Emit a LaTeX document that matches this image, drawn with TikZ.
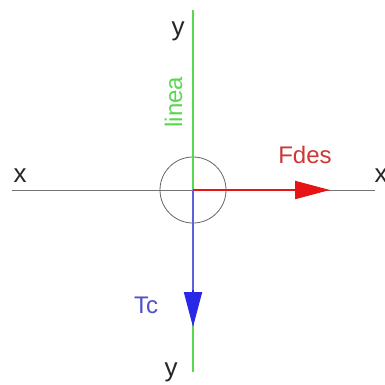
\documentclass[tikz,border=0pt]{standalone}
\usepackage{fontspec}
\setmainfont{Liberation Sans}
\usetikzlibrary{arrows.meta}
\definecolor{gline}{RGB}{90,215,80}
\definecolor{rarrow}{RGB}{230,20,20}
\definecolor{rtext}{RGB}{205,55,55}
\definecolor{barrow}{RGB}{40,40,230}
\definecolor{bline}{RGB}{95,95,215}
\definecolor{btext}{RGB}{80,80,205}
\begin{document}
\begin{tikzpicture}[x=1pt,y=-1pt,
  axislbl/.style={font=\fontsize{26}{26}\selectfont, text=black!85, inner sep=0pt, anchor=base},
  lbl/.style={font=\fontsize{24}{24}\selectfont, inner sep=0pt, anchor=base},
  vec/.style={line width=2pt, -{Triangle[length=35pt,width=18pt]}}]
\useasboundingbox (0,0) rectangle (385,385);
\fill[white] (0,0) rectangle (385,385);
\coordinate (o) at (193,190);
\coordinate (xl) at (12,190);
\coordinate (xr) at (375,190);
\coordinate (yt) at (193,10);
\coordinate (yb) at (193,372);
\coordinate (fe) at (330,190);
\coordinate (te) at (193,327);
\draw[black!55, line width=0.9pt] (xl) -- (xr);
\draw[black!60, line width=0.8pt] (o) circle (33);
\draw[gline, line width=2pt] (yt) -- (yb);
\draw[vec, rarrow] (o) -- (fe);
\draw[line width=2pt, bline] (o) -- (193,292);
\draw[vec, barrow, shorten <=100pt] (o) -- (te);
\node[axislbl] (ytop) at (178,36) {y};
\node[axislbl] (ybot) at (171,376) {y};
\node[axislbl] (xleft) at (20,182) {x};
\node[axislbl] (xright) at (381,182) {x};
\node[lbl, text=gline, rotate=90] (linea) at (182,102) {linea};
\node[lbl, text=rtext] (fdes) at (305,163) {Fdes};
\node[lbl, text=btext] (tc) at (146,313) {Tc};
\end{tikzpicture}
\end{document}
